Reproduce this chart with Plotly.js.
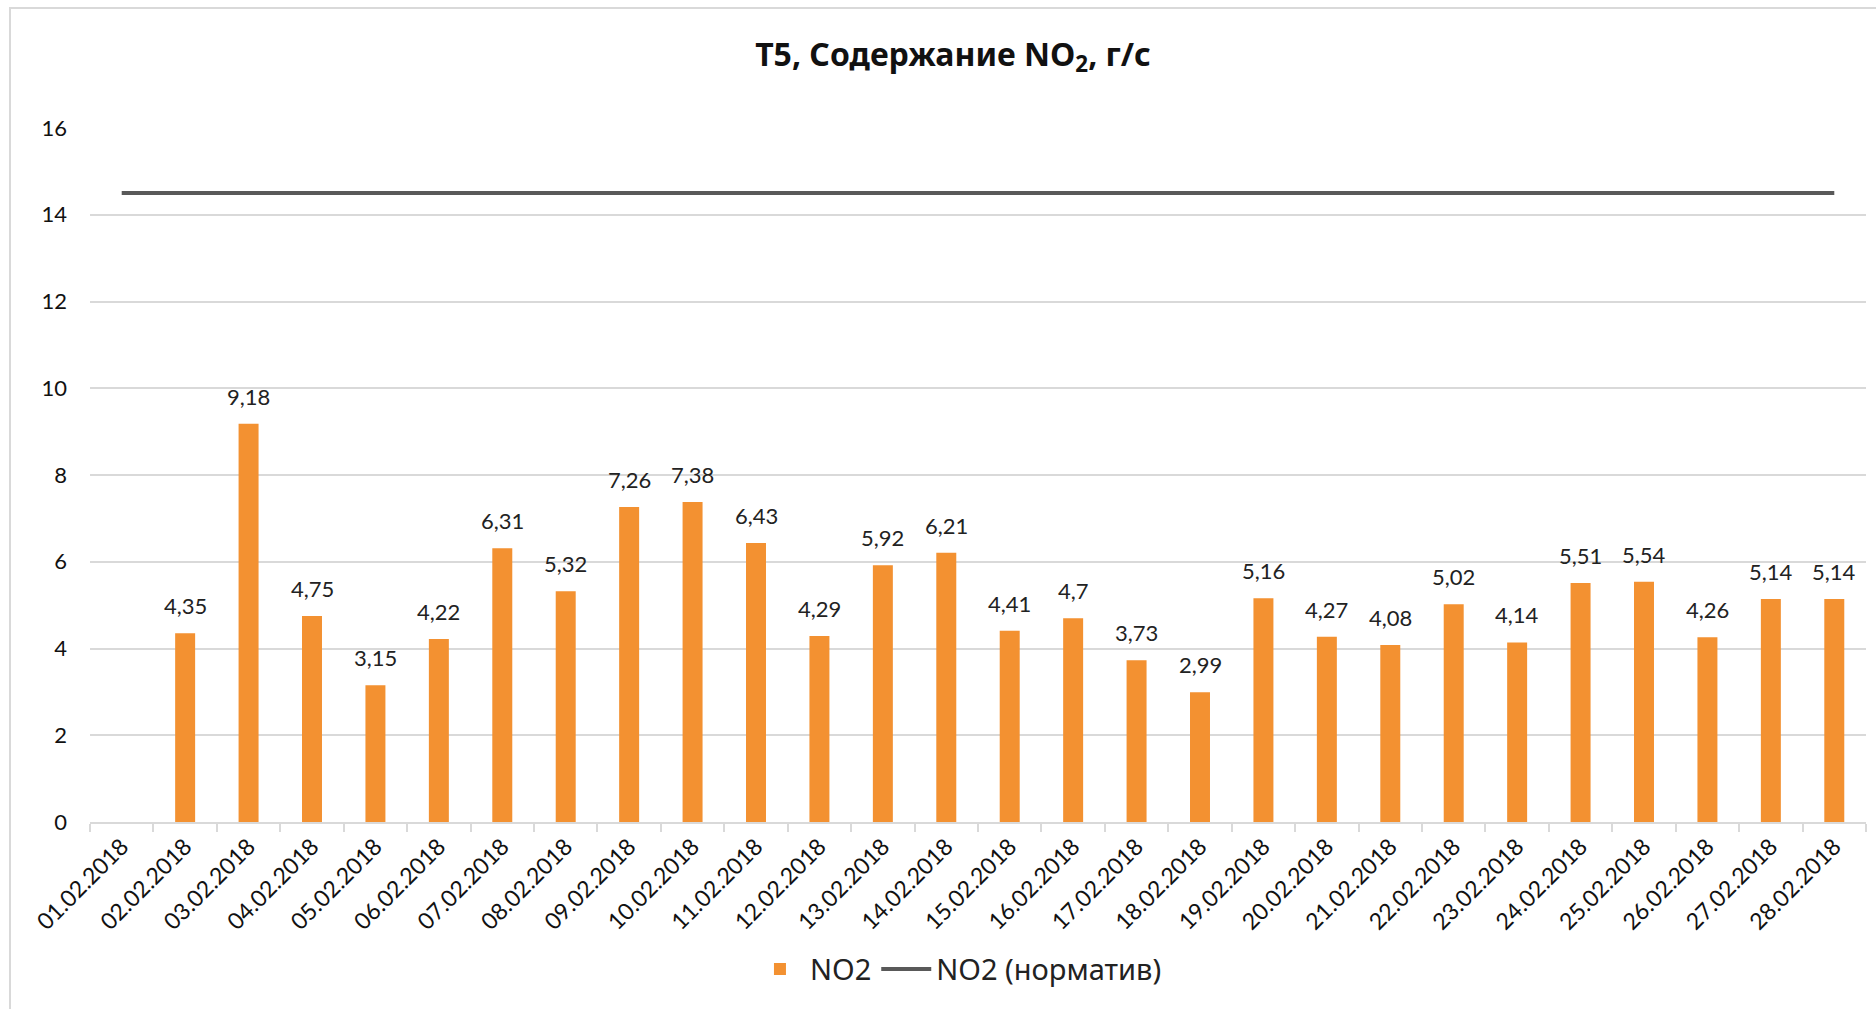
<!DOCTYPE html>
<html>
<head>
<meta charset="utf-8">
<script src="https://cdn.plot.ly/plotly-3.0.1.min.js"></script>
<style>
  html, body { margin: 0; padding: 0; background: #fff; }
  #wrap { position: relative; width: 1876px; height: 1009px; overflow: hidden; }
  #chart { width: 1876px; height: 1009px; }
  #frame { position: absolute; left: 9px; top: 7px; width: 1900px; height: 1100px;
           border: 2px solid #d9d9d9; pointer-events: none; box-sizing: border-box; }
</style>
</head>
<body>
<div id="wrap">
  <div id="chart"></div>
  <div id="frame"></div>
</div>
<script>
const dates = [
  "01.02.2018","02.02.2018","03.02.2018","04.02.2018","05.02.2018","06.02.2018","07.02.2018",
  "08.02.2018","09.02.2018","10.02.2018","11.02.2018","12.02.2018","13.02.2018","14.02.2018",
  "15.02.2018","16.02.2018","17.02.2018","18.02.2018","19.02.2018","20.02.2018","21.02.2018",
  "22.02.2018","23.02.2018","24.02.2018","25.02.2018","26.02.2018","27.02.2018","28.02.2018"
];
const no2 = [
  null, 4.35, 9.18, 4.75, 3.15, 4.22, 6.31,
  5.32, 7.26, 7.38, 6.43, 4.29, 5.92, 6.21,
  4.41, 4.7, 3.73, 2.99, 5.16, 4.27, 4.08,
  5.02, 4.14, 5.51, 5.54, 4.26, 5.14, 5.14
];
const no2Norm = [
  14.5, 14.5, 14.5, 14.5, 14.5, 14.5, 14.5,
  14.5, 14.5, 14.5, 14.5, 14.5, 14.5, 14.5,
  14.5, 14.5, 14.5, 14.5, 14.5, 14.5, 14.5,
  14.5, 14.5, 14.5, 14.5, 14.5, 14.5, 14.5
];
const yTicks = [0, 2, 4, 6, 8, 10, 12, 14, 16];

const tickFont = "Lato, 'Noto Sans', sans-serif";
const textFont = "'Noto Sans', 'Open Sans', sans-serif";

const traces = [
  {
    type: "bar",
    name: "NO2",
    x: dates,
    y: no2,
    marker: { color: "#F39131" },
    hoverinfo: "x+y"
  },
  {
    type: "scatter",
    mode: "lines",
    name: "NO2 (норматив)",
    x: dates,
    y: no2Norm,
    line: { color: "#595959", width: 4 }
  }
];

// data labels above bars, positioned through the axes
const labels = [];
dates.forEach((d, i) => {
  if (no2[i] === null) return;
  labels.push({
    x: d, y: no2[i], xref: "x", yref: "y",
    text: String(no2[i]).replace(".", ","),
    showarrow: false,
    yanchor: "bottom",
    yshift: 12,
    font: { family: tickFont, size: 22, color: "#222" }
  });
});

const layout = {
  width: 1876,
  height: 1009,
  paper_bgcolor: "#ffffff",
  plot_bgcolor: "#ffffff",
  separators: ", ",
  margin: { l: 90, r: 10, t: 128, b: 187 },
  title: {
    text: "<b>T5, Содержание NO<sub>2</sub>, г/с</b>",
    font: { family: textFont, size: 32, color: "#111" },
    x: 0.508, xanchor: "center",
    y: 0.946, yanchor: "middle"
  },
  bargap: 0.685,
  showlegend: true,
  legend: {
    orientation: "h",
    x: 0.489, xanchor: "center",
    y: -0.212, yanchor: "middle",
    font: { family: textFont, size: 29, color: "#222" },
    itemwidth: 50
  },
  annotations: labels,
  xaxis: {
    type: "category",
    range: [-0.5, 27.5],
    tickangle: -45,
    ticks: "outside",
    tickson: "boundaries",
    ticklen: 8,
    tickwidth: 2,
    tickcolor: "#d9d9d9",
    showline: true,
    linecolor: "#d9d9d9",
    linewidth: 2,
    showgrid: false,
    tickfont: { family: tickFont, size: 23, color: "#111" }
  },
  yaxis: {
    range: [0, 16],
    tickvals: yTicks,
    ticktext: yTicks.map(String),
    showgrid: true,
    gridcolor: "#d9d9d9",
    gridwidth: 2,
    zeroline: false,
    showline: false,
    ticks: "",
    ticklabelstandoff: 22,
    tickfont: { family: tickFont, size: 22, color: "#111" }
  }
};

Plotly.newPlot("chart", traces, layout, { displayModeBar: false, staticPlot: true });
</script>
</body>
</html>
